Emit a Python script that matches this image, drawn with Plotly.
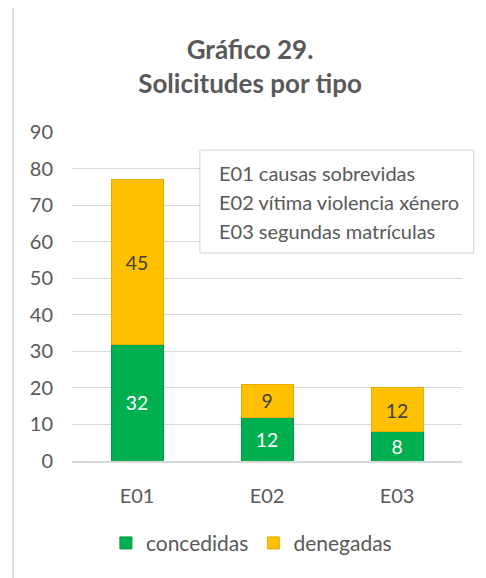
import plotly.graph_objects as go

# data
categories = ["E01", "E02", "E03"]
concedidas = [32, 12, 8]
denegadas = [45, 9, 12]
code_notes = ["E01 causas sobrevidas", "E02 vítima violencia xénero", "E03 segundas matrículas"]

FONT = "Lato"
GREY = "#595959"

fig = go.Figure()
fig.add_trace(go.Bar(
    x=categories, y=concedidas, name="concedidas",
    marker=dict(color="#00B050", line=dict(color="#009A45", width=1)),
    text=concedidas, textposition="inside", insidetextanchor="middle", textangle=0,
    textfont=dict(color="white", size=20, family=FONT),
))
fig.add_trace(go.Bar(
    x=categories, y=denegadas, name="denegadas",
    marker=dict(color="#FFC000", line=dict(color="#E6AC00", width=1)),
    text=denegadas, textposition="inside", insidetextanchor="middle", textangle=0,
    textfont=dict(color="#404040", size=20, family=FONT),
))

# outer chart border (like the Excel chart frame)
fig.add_shape(type="rect", xref="paper", yref="paper",
              x0=-0.151, x1=1.1, y0=-0.40, y1=1.38,
              line=dict(color="#D9D9D9", width=1.5), fillcolor="rgba(0,0,0,0)", layer="below")

# text box with the code notes
fig.add_shape(type="rect", xref="paper", yref="paper",
              x0=0.328, x1=1.03, y0=0.632, y1=0.945,
              line=dict(color="#D0D0D0", width=1), fillcolor="white", layer="above")
for note, yy in zip(code_notes, [0.875, 0.786, 0.700]):
    fig.add_annotation(text=note, xref="paper", yref="paper", x=0.372, y=yy,
                       xanchor="left", yanchor="middle", showarrow=False,
                       font=dict(family=FONT, size=20, color=GREY))

fig.update_layout(
    width=486, height=578,
    margin=dict(l=64, r=32, t=124, b=125),
    paper_bgcolor="white", plot_bgcolor="white",
    barmode="stack", bargap=0.6,
    font=dict(family=FONT, color=GREY, size=20),
    title=dict(text="<b>Gráfico 29.<br>Solicitudes por tipo</b>",
               x=0.498, xanchor="center", y=0.912, yanchor="middle",
               yref="container", font=dict(size=26, color=GREY, family=FONT)),
    legend=dict(orientation="h", x=0.46, xanchor="center", y=-0.25, yanchor="middle",
                font=dict(size=21, color=GREY, family=FONT), itemwidth=30,
                traceorder="normal"),
    uniformtext=dict(mode="show", minsize=10),
)
fig.update_yaxes(range=[0, 90], dtick=10, showgrid=True, gridcolor="#D9D9D9", gridwidth=1.3,
                 zeroline=False, showline=False, ticklabelstandoff=18,
                 tickfont=dict(size=20, color=GREY, family=FONT))
fig.update_xaxes(showline=True, linecolor="#D9D9D9", linewidth=2,
                 ticks="outside", ticklen=16, tickcolor="rgba(0,0,0,0)",
                 tickfont=dict(size=20, color=GREY, family=FONT))

fig.write_html("out.html")
